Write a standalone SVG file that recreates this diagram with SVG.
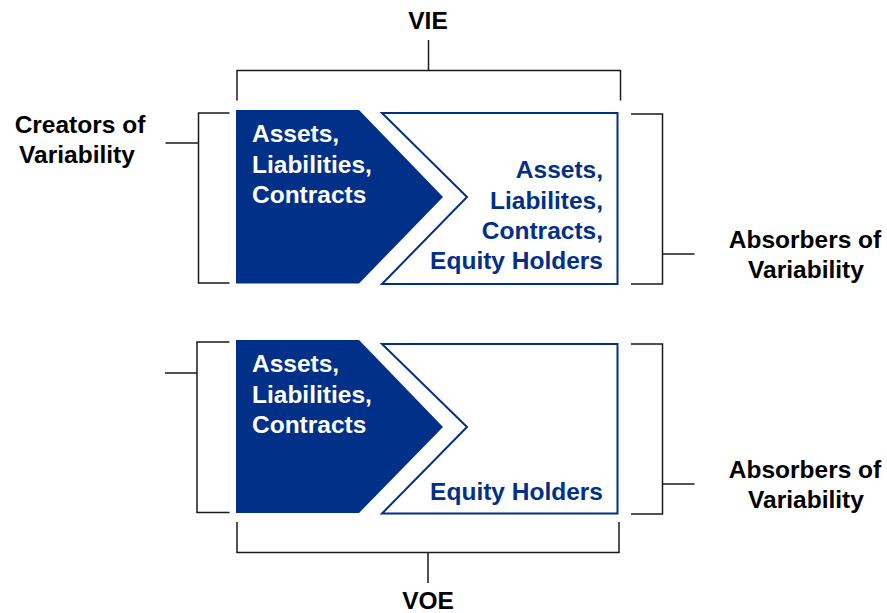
<svg xmlns="http://www.w3.org/2000/svg" width="887" height="613" viewBox="0 0 887 613">
<style>
.lbl{font-family:"Liberation Sans",Arial,sans-serif;font-weight:bold;font-size:24.5px;fill:#000;text-anchor:middle}
.wt{font-family:"Liberation Sans",Arial,sans-serif;font-weight:bold;font-size:24.5px;fill:#fff}
.bt{font-family:"Liberation Sans",Arial,sans-serif;font-weight:bold;font-size:24.5px;fill:#003087;text-anchor:end}
.dark{fill:#003087}
.box{fill:#fff;stroke:#003087;stroke-width:2}
.br{fill:none;stroke:#1a1a1a;stroke-width:1.5}
</style>
<rect width="887" height="613" fill="#fff"/>
<g id="connectors">
<path class="br" d="M237 100.5V70.5H620.5V100.5M428.5 70.5V40"/>
<path class="br" d="M229.5 113H198.5V283H229.5M198.5 143H165.5"/>
<path class="br" d="M631 114H662.5V284H631M662.5 254H694.5"/>
<path class="br" d="M229.5 342H197V512.5H229.5M197 373H165"/>
<path class="br" d="M631 344H662.5V514H631M662.5 484H694.5"/>
<path class="br" d="M237 522V552.5H619V522M428 552.5V583"/>
</g>
<g id="vie-label"><text class="lbl" x="428" y="29">VIE</text></g>
<g id="voe-label"><text class="lbl" x="428" y="609">VOE</text></g>
<g id="creators"><text class="lbl" x="80" y="133">Creators of</text><text class="lbl" x="77" y="163">Variability</text></g>
<g id="absorbers-top"><text class="lbl" x="805" y="248">Absorbers of</text><text class="lbl" x="806" y="278">Variability</text></g>
<g id="absorbers-bottom"><text class="lbl" x="805" y="478">Absorbers of</text><text class="lbl" x="806" y="508">Variability</text></g>
<g id="vie-creators">
<polygon class="dark" points="236,110 359,110 443,197 359,283.5 236,283.5"/>
<text class="wt" x="252" y="142">Assets,</text>
<text class="wt" x="252" y="172.5">Liabilities,</text>
<text class="wt" x="252" y="203">Contracts</text>
</g>
<g id="vie-absorbers">
<polygon class="box" points="382,113 617.5,113 617.5,284 382,284 467,197"/>
<text class="bt" x="603" y="178">Assets,</text>
<text class="bt" x="603" y="208.5">Liabilites,</text>
<text class="bt" x="603" y="238.5">Contracts,</text>
<text class="bt" x="603" y="269">Equity Holders</text>
</g>
<g id="voe-creators">
<polygon class="dark" points="236,340 359,340 443,427 359,513 236,513"/>
<text class="wt" x="252" y="372">Assets,</text>
<text class="wt" x="252" y="402.5">Liabilities,</text>
<text class="wt" x="252" y="433">Contracts</text>
</g>
<g id="voe-absorbers">
<polygon class="box" points="382,344 617.5,344 617.5,513.5 382,513.5 467,427"/>
<text class="bt" x="603" y="499.5">Equity Holders</text>
</g>
</svg>
